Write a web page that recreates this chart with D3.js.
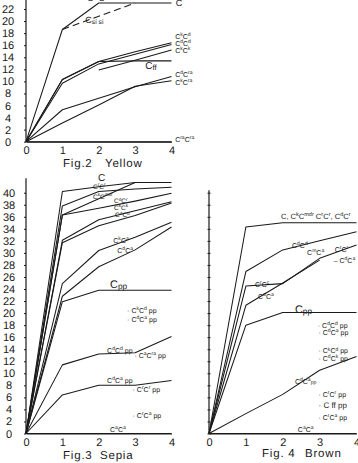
<!DOCTYPE html>
<html><head><meta charset="utf-8">
<script src="https://cdn.jsdelivr.net/npm/d3@7"></script>
<style>
body{margin:0;background:#fff}
svg{display:block}
text{font-family:"Liberation Sans",Arial,sans-serif;fill:#1a1a1a;text-rendering:geometricPrecision}
</style>
</head><body><svg id="c" width="358" height="463"></svg>
<script>
// ---------- DATA ----------
const X = [0, 1, 2, 3, 4];
const xTickLabels = ["0", "1", "2", "3", "4"];

// Fig.2 Yellow
const yellowTicks = [0, 2, 4, 6, 8, 10, 12, 14, 16, 18, 20, 22];
const yellowC    = [0, 18.6, 23.0, 23.0, 23.0];
const yellowSiSi = [null, 18.6, 20.8, 23.0, null];
const yellowKD   = [0, 10.3, 13.3, 14.9, 16.4];
const yellowDD   = [0, 9.7, 12.9, 14.5, 16.1];
const yellowKK   = [null, null, 11.9, 13.5, 15.2];
const yellowFF   = [0, 10.3, 13.3, 13.4, 13.4];
const yellowDRa  = [0, 5.3, 7.2, 9.1, 10.8];
const yellowKRa  = [0, 3.1, 6.1, 9.2, 10.1];
const yellowRaRa = [0, 0, 0, 0, 0];

// Fig.3 Sepia
const sepiaTicks = [0, 2, 4, 6, 8, 10, 12, 14, 16, 18, 20, 22, 24, 26, 28, 30, 32, 34, 36, 38, 40];
const sepiaC    = [0, 40.2, 41.0, 41.7, 41.7];
const sepiaRR   = [0, 37.8, 40.2, 40.6, 40.9];
const sepiaKMdr = [0, 36.3, 39.0, 41.7, null];
const sepiaDR   = [0, 36.3, 37.4, 38.6, 39.9];
const sepiaKK   = [0, 32.1, 35.5, 37.0, 38.5];
const sepiaDD   = [0, 31.7, 34.5, 36.2, 38.3];
const sepiaKA   = [0, 24.9, 30.4, 32.6, 35.1];
const sepiaDA   = [0, 22.8, 27.7, 30.5, 34.3];
const sepiaPP   = [0, 21.9, 23.8, 23.8, 23.8];
const sepiaDDpp = [0, 11.4, 13.2, 13.4, 16.1];
const sepiaDApp = [0, 6.4, 8.0, 8.0, 8.8];
const sepiaAA   = [0, 0, 0, 0, 0];

// Fig.4 Brown
const brownTicks = [0, 2, 4, 6, 8, 10, 12, 14, 16, 18, 20, 22, 24, 26, 28, 30, 32, 34, 36, 38, 40];
const brownC    = [0, 34.3, 35.0, 35.0, 35.0];
const brownDD   = [0, 26.9, 30.5, 32.0, 33.5];
const brownRC   = [0, 24.5, 24.9, 29.1, 31.3];
const brownDA   = [0, 21.3, 25.0, 28.8, null];
const brownPP   = [0, 18.0, 20.1, 20.1, 20.1];
const brownDApp = [0, 3.3, 6.5, 10.5, 12.8];
const brownAA   = [0, 0, 0, 0, 0];

// annotations (text, data x, data y, font size)
const yellowLabels = [
  ["C", 4.12, 23.0, 9], ["C^{si}C^{si}", 1.68, 23.9, 9],
  ["C_{si si}", 1.63, 20.2, 9],
  ["C^{k}C^{d}", 4.1, 17.4, 7], ["C^{d}C^{d}", 4.1, 16.2, 7], ["C^{k}C^{k}", 4.1, 15.1, 7],
  ["C_{ff}", 3.28, 12.6, 10],
  ["C^{d}C^{ra}", 4.1, 11.1, 7], ["C^{k}C^{ra}", 4.1, 9.8, 7],
  ["C^{ra}C^{ra}", 4.1, 0.3, 7]
];
const sepiaLabels = [
  ["C", 1.98, 42.5, 10],
  ["C^{r}C^{r}", 1.84, 41.0, 6.5],
  ["C^{k}C^{mdr}", 1.84, 39.4, 6.5],
  ["C^{d}C^{r}", 2.42, 38.6, 6.5],
  ["C^{k}C^{k}", 2.42, 37.5, 6.5],
  ["C^{d}C^{d}", 2.45, 36.3, 6.5],
  ["C^{k}C^{a}", 2.4, 32.1, 7],
  ["C^{d}C^{a}", 2.51, 30.4, 7],
  ["C_{pp}", 2.31, 24.8, 11],
  ["· C^{k}C^{d} pp", 2.78, 20.4, 7],
  ["· C^{d}C^{a} pp", 2.78, 18.9, 7],
  ["C^{d}C^{d} pp", 2.23, 13.8, 7],
  ["· C^{a}C^{ra} pp", 2.98, 13.0, 7],
  ["C^{d}C^{a} pp", 2.23, 8.8, 7],
  ["· C^{r}C^{r} pp", 2.93, 7.3, 7],
  ["· C^{r}C^{a} pp", 2.93, 3.0, 7],
  ["C^{a}C^{a}", 2.31, 0.6, 7]
];
const brownLabels = [
  ["C, C^{k}C^{mdr} C^{r}C^{r}, C^{d}C^{r}", 1.95, 36.0, 7.6],
  ["C^{d}C^{d}", 2.25, 31.3, 7],
  ["C^{m}C^{a}", 2.66, 30.0, 7],
  ["C^{r}C^{r}", 3.41, 30.6, 7],
  ["– C^{d}C^{a}", 3.38, 28.7, 7],
  ["–C^{r}C^{c}", 1.14, 24.7, 7],
  ["C^{d}C^{a}", 1.33, 22.8, 7],
  ["C_{pp}", 2.33, 20.7, 11],
  ["· C^{d}C^{d} pp", 2.95, 18.0, 7],
  ["· C^{d}C^{a} pp", 2.97, 16.7, 7],
  ["· C^{k}C^{d} pp", 2.97, 13.7, 7],
  ["· C^{d}C^{k} pp", 2.97, 12.5, 7],
  ["C^{d}C^{a}_{pp}", 2.33, 8.7, 7],
  ["· C^{r}C^{r} pp", 2.97, 6.4, 7],
  ["· C ff pp", 2.97, 4.7, 8],
  ["· C^{r}C^{a} pp", 2.97, 2.7, 7],
  ["C^{a}C^{a}", 2.41, 0.6, 7]
];

// ---------- DRAW ----------
const svg = d3.select("#c");
const INK = "#1a1a1a";

function rich(sel, str, size) {
  const parts = str.split(/(\^\{[^}]*\}|_\{[^}]*\})/).filter(s => s.length);
  let shift = 0;
  parts.forEach(p => {
    let target = 0, txt = p, fs = null;
    if (p.startsWith("^{")) { target = -0.42 * size; txt = p.slice(2, -1); fs = size * 0.72; }
    else if (p.startsWith("_{")) { target = 0.12 * size; txt = p.slice(2, -1); fs = size * 0.75; }
    const t = sel.append("tspan").attr("dy", target - shift).text(txt);
    if (fs) t.attr("font-size", fs);
    shift = target;
  });
}

function panel(cfg) {
  const g = svg.append("g");
  const x = d3.scaleLinear().domain([0, 4]).range(cfg.xr);
  const y = d3.scaleLinear().domain([0, cfg.yMax]).range(cfg.yr);

  // y axis line
  g.append("line").attr("x1", x(0)).attr("x2", x(0))
    .attr("y1", y(0)).attr("y2", y(cfg.axisTop))
    .attr("stroke", INK).attr("stroke-width", 1.2);
  // y ticks
  const ya = g.append("g").attr("transform", `translate(${x(0)},0)`)
    .call(d3.axisLeft(y).tickValues(cfg.ticks).tickSize(cfg.tickLen).tickFormat(cfg.showY ? d3.format("d") : ""));
  ya.select(".domain").remove();
  ya.selectAll(".tick line").attr("stroke", INK).attr("transform", cfg.showY ? null : "translate(1.5,0)");
  ya.selectAll("text").attr("text-anchor", "middle").attr("x", -(x(0) - cfg.yLabelX))
    .attr("font-size", 11).attr("font-family", "Liberation Sans, Arial, sans-serif").attr("fill", INK);

  // x axis
  const xa = g.append("g").attr("transform", `translate(0,${y(0)})`)
    .call(d3.axisBottom(x).tickValues(X).tickSize(0).tickPadding(5).tickFormat((d, i) => xTickLabels[i]));
  xa.select(".domain").attr("stroke", INK).attr("stroke-width", 1.2);
  xa.selectAll("text").attr("font-size", 11).attr("font-family", "Liberation Sans, Arial, sans-serif").attr("fill", INK);

  // series
  const line = d3.line().defined(d => d[1] != null).x(d => x(d[0])).y(d => y(d[1]));
  cfg.series.forEach(s => {
    g.append("path").datum(X.map((v, i) => [v, s.v[i]]))
      .attr("d", line).attr("fill", "none").attr("stroke", INK)
      .attr("stroke-width", 1.05).attr("stroke-linejoin", "round")
      .attr("stroke-dasharray", s.dash || null);
  });

  // labels
  cfg.labels.forEach(([t, lx, ly, fs]) => {
    const te = g.append("text").attr("x", x(lx)).attr("y", y(ly) + fs * 0.35)
      .attr("font-size", fs);
    rich(te, t, fs);
  });

  // title
  cfg.title.forEach(([t, px]) => {
    g.append("text").attr("x", px).attr("y", cfg.titleY).attr("font-size", 11.5)
      .attr("letter-spacing", 0.8).text(t);
  });
}

panel({
  xr: [26, 171.5], yr: [141.7, 9], yMax: 22, axisTop: 23.5, ticks: yellowTicks,
  tickLen: 2, showY: true, yLabelX: 8,
  series: [
    {v: yellowC}, {v: yellowSiSi, dash: "7,4"}, {v: yellowKD}, {v: yellowDD}, {v: yellowKK},
    {v: yellowFF}, {v: yellowDRa}, {v: yellowKRa}, {v: yellowRaRa}
  ],
  labels: yellowLabels,
  title: [["Fig.2", 63], ["Yellow", 105]], titleY: 167
});

panel({
  xr: [26, 171.5], yr: [433.5, 192.7], yMax: 40, axisTop: 42.4, ticks: sepiaTicks,
  tickLen: 2, showY: true, yLabelX: 9,
  series: [
    {v: sepiaC}, {v: sepiaRR}, {v: sepiaKMdr}, {v: sepiaDR}, {v: sepiaKK}, {v: sepiaDD},
    {v: sepiaKA}, {v: sepiaDA}, {v: sepiaPP}, {v: sepiaDDpp}, {v: sepiaDApp}, {v: sepiaAA}
  ],
  labels: sepiaLabels,
  title: [["Fig.3", 63], ["Sepia", 100]], titleY: 459
});

panel({
  xr: [209, 356.5], yr: [433.5, 192.7], yMax: 40, axisTop: 40.4, ticks: brownTicks,
  tickLen: 3, showY: false, yLabelX: 200,
  series: [
    {v: brownC}, {v: brownDD}, {v: brownRC}, {v: brownDA}, {v: brownPP}, {v: brownDApp}, {v: brownAA}
  ],
  labels: brownLabels,
  title: [["Fig. 4", 262], ["Brown", 305]], titleY: 457
});
</script>
</body></html>
